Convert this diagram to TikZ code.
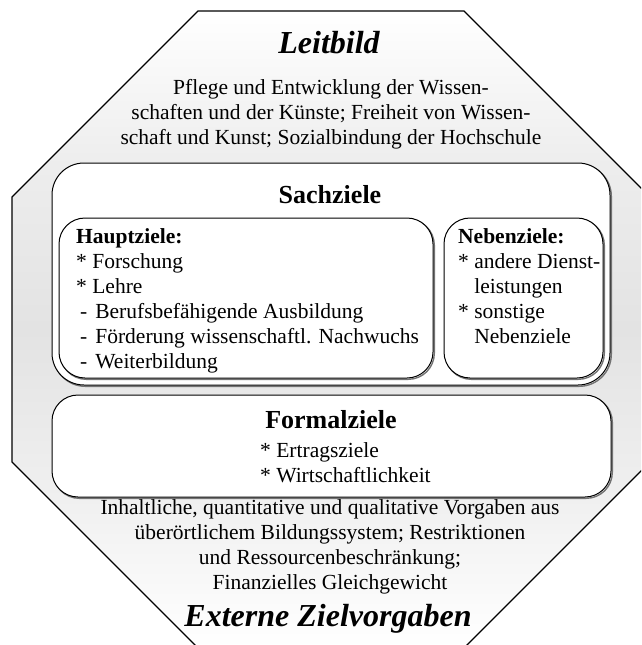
\documentclass[tikz,border=0pt]{standalone}
\usepackage{fontspec}
\setmainfont{Liberation Serif}
% light grey band across the middle of the frame, white towards top and bottom
\pgfdeclareverticalshading{octfill}{100bp}{%
  color(0bp)=(white); color(25bp)=(white); color(37bp)=(white!94!black);
  color(50bp)=(white!89!black); color(63bp)=(white!93!black);
  color(75bp)=(white); color(100bp)=(white)}
\tikzset{
  frame/.style={draw=black, line width=1.1pt, shading=octfill},
  goalbox/.style={draw=black, line width=1pt, fill=white, rectangle,
    inner sep=0pt,
    preaction={draw=black!55, line width=1.4pt,
      transform canvas={xshift=1.3pt, yshift=-1.3pt}}},
  body/.style={font=\fontsize{21.5}{25}\selectfont, inner sep=0pt},
  heading/.style={font=\bfseries\itshape\fontsize{32}{36}\selectfont, inner sep=0pt},
  boxtitle/.style={font=\bfseries\fontsize{26}{30}\selectfont, inner sep=0pt},
}
% indented dash entry below a main goal
\newcommand{\dashentry}[1]{\hspace*{4pt}-\hspace{8pt}#1}
\begin{document}
\begin{tikzpicture}[x=1pt, y=-1pt]
\useasboundingbox (0,0) rectangle (641,645);
\clip (0,0) rectangle (641,645);

% outer octagon
\path[frame] (198,11) -- (464,11) -- (650,197) -- (650,462) -- (464,648)
  -- (198,648) -- (12,462) -- (12,197) -- cycle;

% Leitbild (multi-line nodes: base anchor sits on the last line)
\node[heading, anchor=base] (leit) at (329,53) {Leitbild};
\node[body, align=center, anchor=base] (leittext) at (331,144.5)
  {Pflege und Entwicklung der Wissen-\\
   schaften und der Künste; Freiheit von Wissen-\\
   schaft und Kunst; Sozialbindung der Hochschule};

% Sachziele
\node[goalbox, rounded corners=32pt, minimum width=558pt, minimum height=222pt]
  (sach) at (331,274) {};
\node[boxtitle, anchor=base] (sachtitle) at (330,203) {Sachziele};

\node[goalbox, rounded corners=26pt, minimum width=374pt, minimum height=160pt]
  (haupt) at (246,298) {};
\node[body, align=left, anchor=base west] (haupttext) at (76,368)
  {\textbf{Hauptziele:}\\
   * Forschung\\
   * Lehre\\
   \dashentry{Berufsbefähigende Ausbildung}\\
   \dashentry{Förderung wissenschaftl. Nachwuchs}\\
   \dashentry{Weiterbildung}};

\node[goalbox, rounded corners=26pt, minimum width=159pt, minimum height=160pt]
  (neben) at (523.5,298) {};
\node[body, align=left, anchor=base west] (nebentext) at (458,343)
  {\textbf{Nebenziele:}\\
   * andere Dienst-\\
   \hphantom{*}~leistungen\\
   * sonstige\\
   \hphantom{*}~Nebenziele};

% Formalziele
\node[goalbox, rounded corners=26pt, minimum width=559pt, minimum height=102pt]
  (formal) at (331.5,446) {};
\node[boxtitle, anchor=base] (formaltitle) at (331,428) {Formalziele};
\node[body, align=left, anchor=base west] (formaltext) at (260,482)
  {* Ertragsziele\\
   * Wirtschaftlichkeit};

% Externe Zielvorgaben
\node[body, align=center, anchor=base] (exttext) at (330,589.5)
  {Inhaltliche, quantitative und qualitative Vorgaben aus\\
   überörtlichem Bildungssystem; Restriktionen\\
   und Ressourcenbeschränkung;\\
   Finanzielles Gleichgewicht};
\node[heading, anchor=base] (ext) at (328,626) {Externe Zielvorgaben};
\end{tikzpicture}
\end{document}
